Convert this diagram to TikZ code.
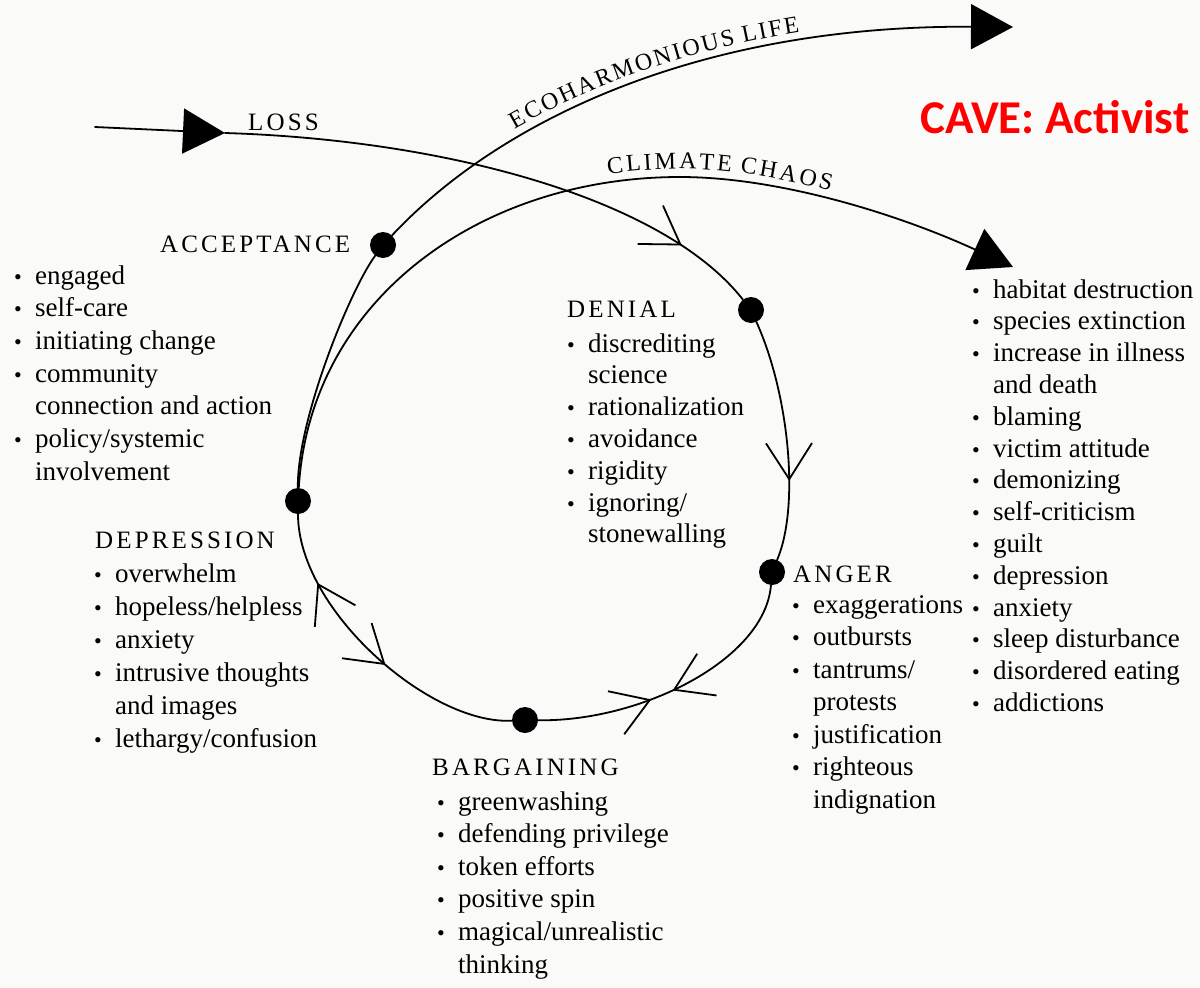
\documentclass[tikz,border=0pt]{standalone}
\usepackage{fontspec}
\setmainfont{Liberation Serif}
\newfontfamily\capsfont[LetterSpace=12.5]{Liberation Serif}
\newfontfamily\tagfont{Carlito}
\usetikzlibrary{arrows.meta,decorations.markings,decorations.text}

\definecolor{paper}{RGB}{250,250,248}
\definecolor{alertred}{RGB}{255,0,0}

% bullet and hanging indent for the symptom lists
\newcommand\bul{\makebox[21pt][l]{\fontsize{22}{22}\selectfont\textbullet}}
\newcommand\ind{\hspace*{21pt}}

\tikzset{
  curve/.style={line width=1.8pt, line cap=round},
  dot/.style={circle, fill=black, inner sep=0pt, minimum size=26pt},
  openv/.tip={Straight Barb[length=36pt,width=46pt,line width=1.8pt]},
  bigtri/.tip={Triangle[length=42pt,width=45pt]},
  stage/.style={anchor=base west, inner sep=0pt, font=\capsfont\fontsize{25}{25}\selectfont},
  items/.style={anchor=base west, inner sep=0pt, font=\fontsize{27}{#1}\selectfont},
  items/.default=32.5,
  fwd/.style={postaction={decorate}, decoration={markings, mark=at position #1 with {\arrow{openv}}}},
}

\begin{document}
\begin{tikzpicture}[x=1pt,y=-1pt]
\fill[paper] (0,0) rectangle (1200,988);
\useasboundingbox (0,0) rectangle (1200,988);

% stage points on the cycle
\node[dot] (acc) at (383,245) {};
\node[dot] (den) at (751,310) {};
\node[dot] (ang) at (772,572) {};
\node[dot] (bar) at (525,720) {};
\node[dot] (dep) at (298,501) {};
\coordinate (lossin) at (95,127);
\coordinate (losstip) at (225,133);
\coordinate (ecotip) at (1013,27);
\coordinate (chpeak) at (680,177);
\coordinate (chtip) at (1013,267);

% loss enters the cycle
\draw[curve, -{bigtri}] (lossin) -- (losstip);
\draw[curve, fwd=0.853] (losstip) .. controls (450,140) and (665,200) .. (den);
\draw[curve, fwd=0.67] (den) .. controls (789,394) and (800,506) .. (ang);
\draw[curve, postaction={decorate}, decoration={markings,
    mark=at position 0.52 with {\arrow{openv}},
    mark=at position 0.60 with {\arrowreversed{openv}}}]
  (ang) .. controls (765,660) and (640,722) .. (bar);
\draw[curve, postaction={decorate}, decoration={markings,
    mark=at position 0.44 with {\arrowreversed{openv}},
    mark=at position 0.775 with {\arrow{openv}}}]
  (bar) .. controls (430,725) and (298,610) .. (dep);

% ways out of the cycle
\draw[curve] (dep) .. controls (297,420) and (350,290) .. (acc);
\draw[curve, -{bigtri}] (acc) .. controls (500,120) and (700,25) .. (ecotip);
\draw[curve, -{bigtri}] (dep) .. controls (310,300) and (480,177) .. (chpeak)
  .. controls (780,177) and (900,215) .. (chtip);

% labels along the outgoing paths
\path[decorate, decoration={text along path, raise=10pt,
    text align={left indent=174pt},
    text={|\fontsize{24}{24}\selectfont|{E\kern2pt}{C\kern2pt}{O\kern2pt}{H\kern2pt}{A\kern2pt}{R\kern2pt}{M\kern2pt}{O\kern2pt}{N\kern2pt}{I\kern2pt}{O\kern2pt}{U\kern2pt}{S\kern2pt} {L\kern2pt}{I\kern2pt}{F\kern2pt}{E}}}]
  (acc.center) .. controls (500,120) and (700,25) .. (ecotip);
\path[decorate, decoration={text along path, raise=8pt,
    text align={left indent=484pt},
    text={|\fontsize{24}{24}\selectfont|{C\kern2.5pt}{L\kern2.5pt}{I\kern2.5pt}{M\kern2.5pt}{A\kern2.5pt}{T\kern2.5pt}{E\kern2.5pt} {C\kern2.5pt}{H\kern2.5pt}{A\kern2.5pt}{O\kern2.5pt}{S}}}]
  (dep.center) .. controls (310,300) and (480,177) .. (chpeak)
  .. controls (780,177) and (900,215) .. (chtip);

% stage names
\node[stage] (losslbl) at (248,130) {LOSS};
\node[stage] (acclbl) at (160,252) {ACCEPTANCE};
\node[stage] (denlbl) at (567,317) {DENIAL};
\node[stage] (anglbl) at (793,582) {ANGER};
\node[stage] (deplbl) at (95,548) {DEPRESSION};
\node[stage] (barlbl) at (432,775) {BARGAINING};

% symptom lists
\node[items=32.7] (acclist) at (14,284) {\begin{tabular}[t]{@{}l@{}}
\bul engaged\\
\bul self-care\\
\bul initiating change\\
\bul community\\
\ind connection and action\\
\bul policy/systemic\\
\ind involvement
\end{tabular}};

\node[items=31.8] (denlist) at (567,352) {\begin{tabular}[t]{@{}l@{}}
\bul discrediting\\
\ind science\\
\bul rationalization\\
\bul avoidance\\
\bul rigidity\\
\bul ignoring/\\
\ind stonewalling
\end{tabular}};

\node[items=32.5] (anglist) at (792,613) {\begin{tabular}[t]{@{}l@{}}
\bul exaggerations\\
\bul outbursts\\
\bul tantrums/\\
\ind protests\\
\bul justification\\
\bul righteous\\
\ind indignation
\end{tabular}};

\node[items=33] (deplist) at (94,582) {\begin{tabular}[t]{@{}l@{}}
\bul overwhelm\\
\bul hopeless/helpless\\
\bul anxiety\\
\bul intrusive thoughts\\
\ind and images\\
\bul lethargy/confusion
\end{tabular}};

\node[items=32.6] (barlist) at (437,810) {\begin{tabular}[t]{@{}l@{}}
\bul greenwashing\\
\bul defending privilege\\
\bul token efforts\\
\bul positive spin\\
\bul magical/unrealistic\\
\ind thinking
\end{tabular}};

\node[items=31.8] (chlist) at (972,298) {\begin{tabular}[t]{@{}l@{}}
\bul habitat destruction\\
\bul species extinction\\
\bul increase in illness\\
\ind and death\\
\bul blaming\\
\bul victim attitude\\
\bul demonizing\\
\bul self-criticism\\
\bul guilt\\
\bul depression\\
\bul anxiety\\
\bul sleep disturbance\\
\bul disordered eating\\
\bul addictions
\end{tabular}};

% stamp
\node[anchor=base west, inner sep=0pt, text=alertred,
  font=\tagfont\bfseries\fontsize{47}{47}\selectfont] (cave) at (920,133) {CAVE: Activist};
\end{tikzpicture}
\end{document}
